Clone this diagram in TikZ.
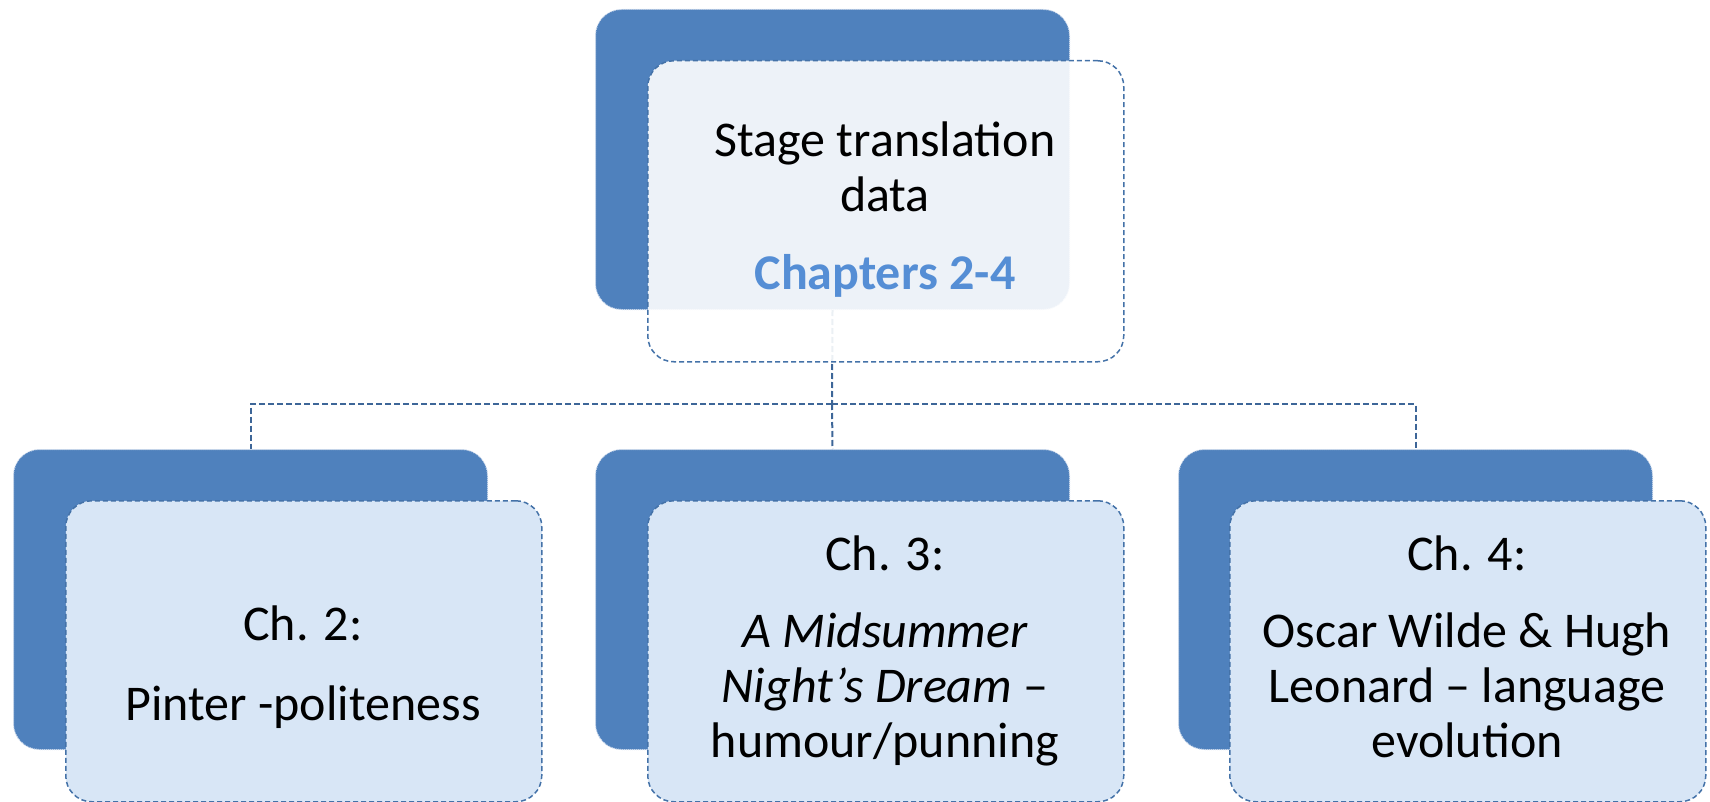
\documentclass[tikz,border=0pt]{standalone}
\usepackage{fontspec}
\setmainfont{Carlito}
\definecolor{backblue}{HTML}{4F81BD}
\definecolor{backedge}{HTML}{C8D6EA}
\definecolor{frontfill}{HTML}{D8E6F6}
\definecolor{edgeblue}{HTML}{4472A8}
\definecolor{linkblue}{HTML}{3D6698}
\definecolor{chapblue}{HTML}{558ED5}
\begin{document}
\begin{tikzpicture}[x=1pt,y=-1pt,
  backbox/.style={rectangle, rounded corners=26pt, fill=backblue, draw=backedge, densely dotted, line width=1pt, minimum width=474pt, minimum height=300pt, inner sep=0pt, anchor=north west},
  frontbox/.style={rectangle, rounded corners=26pt, fill=frontfill, draw=edgeblue, dash pattern=on 5pt off 3pt, line width=1.5pt, minimum width=476pt, minimum height=301pt, inner sep=0pt, anchor=north west},
  topfront/.style={frontbox, fill=white, fill opacity=0.9, draw opacity=1},
  link/.style={draw=linkblue, line width=2pt, dash pattern=on 6pt off 3pt},
  lbl/.style={anchor=base, inner sep=0pt, font=\fontsize{50}{55}\selectfont}
]
\useasboundingbox (0,0) rectangle (1710,802);
% back boxes
\node[backbox] (topback) at (595,9) {};
\node[backbox] (leftback) at (13,449) {};
\node[backbox] (midback) at (595,449) {};
\node[backbox] (rightback) at (1178,449) {};
% connectors
\coordinate (bus) at (832,404);
\draw[link] (topback.south) -- (bus);
\draw[link] (bus) -| (leftback.north);
\draw[link] (bus) -- (midback.north);
\draw[link] (bus) -| (rightback.north);
% front boxes
\node[topfront] (topfront) at (647,60) {};
\node[frontbox] (leftfront) at (65,500) {};
\node[frontbox] (midfront) at (647,500) {};
\node[frontbox] (rightfront) at (1229,500) {};
% texts
\node[lbl] (t1) at (885,157) {Stage translation};
\node[lbl] (t2) at (885,212) {data};
\node[lbl, text=chapblue, font=\fontsize{50}{55}\selectfont\bfseries] (t3) at (885,290) {Chapters 2-4};
\node[lbl] (l1) at (303,640) {Ch. 2:};
\node[lbl] (l2) at (303,720) {Pinter -politeness};
\node[lbl] (m1) at (885,570) {Ch. 3:};
\node[lbl] (m2) at (885,647) {\textit{A Midsummer}};
\node[lbl] (m3) at (885,702) {\textit{Night’s Dream} –};
\node[lbl] (m4) at (885,757) {humour/punning};
\node[lbl] (r1) at (1467,570) {Ch. 4:};
\node[lbl] (r2) at (1467,647) {Oscar Wilde \& Hugh};
\node[lbl] (r3) at (1467,702) {Leonard – language};
\node[lbl] (r4) at (1467,757) {evolution};
\end{tikzpicture}
\end{document}
